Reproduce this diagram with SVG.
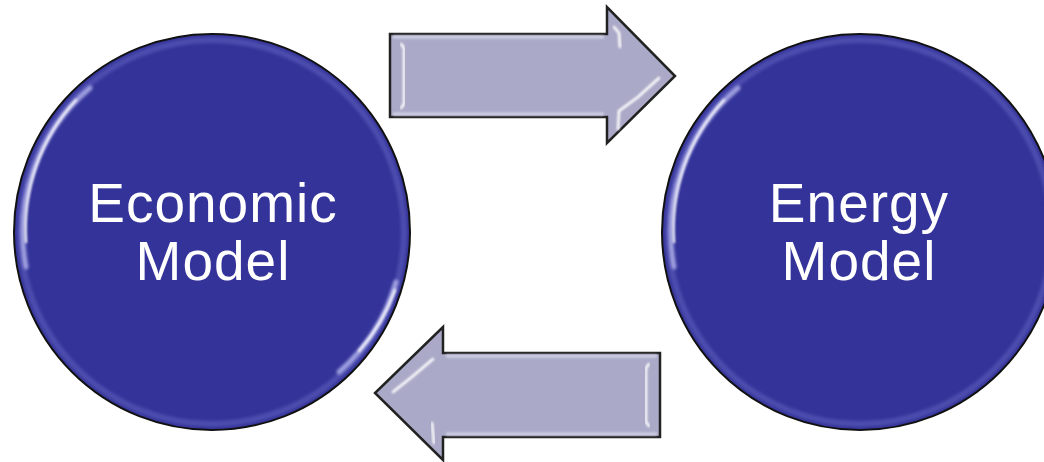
<svg xmlns="http://www.w3.org/2000/svg" width="1044" height="462" viewBox="0 0 1044 462">
<style>
.ball{fill:#333399;stroke:#111;stroke-width:2}
.band{fill:none;stroke:#6262c0;stroke-width:6;opacity:0.55;filter:url(#soft2)}
.glint{fill:none;stroke:#ffffff;stroke-width:2.5;stroke-linecap:round;filter:url(#soft);opacity:0.9}
.glint2{fill:none;stroke:#b8b8f0;stroke-width:5;stroke-linecap:round;filter:url(#soft2);opacity:0.8}
.arrow{fill:#aaaac8;stroke:#222;stroke-width:2.5;stroke-linejoin:miter}
.edge{fill:none;stroke:#ffffff;stroke-width:2.5;stroke-linecap:round;filter:url(#soft)}
.inner{fill:none;stroke:#d0d0e6;stroke-width:3;filter:url(#soft)}
.lbl{font-family:"Liberation Sans",Arial,sans-serif;font-size:55px;fill:#ffffff;text-anchor:middle;letter-spacing:1px}
</style>
<defs>
<filter id="soft" x="-20%" y="-20%" width="140%" height="140%"><feGaussianBlur stdDeviation="0.9"/></filter>
<filter id="soft2" x="-20%" y="-20%" width="140%" height="140%"><feGaussianBlur stdDeviation="1.8"/></filter>
</defs>
<g id="connectors">
<g id="arrow-right">
<path class="arrow" d="M390,34 L607,34 L607,7 L675,76 L607,143 L607,117 L390,117 Z"/>
<path class="inner" d="M393,37 L604,37 M393,114 L604,114"/>
<path class="edge" d="M401,44 L404,48 L404,104 L401,108"/>
<path class="edge" d="M614,27 L619,33 L620,47"/>
<path class="edge" d="M659,78 L638,97 L619,111 L618,129"/>
</g>
<g id="arrow-left">
<path class="arrow" d="M660,353 L443,353 L443,327 L375,393 L443,460 L443,437 L660,437 Z"/>
<path class="inner" d="M657,356 L446,356 M657,434 L446,434"/>
<path class="edge" d="M649,364 L646,368 L646,422 L649,426"/>
<path class="edge" d="M433,359 L413,376 L393,392"/>
<path class="edge" d="M432,423 L434,443"/>
</g>
</g>
<g id="node-economic">
<circle class="ball" cx="212" cy="232" r="198"/>
<circle class="band" cx="212" cy="232" r="192"/>
<path class="glint2" d="M26,267 A189,189 0 0 1 90,88"/>
<path class="glint" d="M26,242 A189,189 0 0 1 76,100"/>
<path class="glint2" d="M396,282 A189,189 0 0 1 339,372"/>
<path class="glint" d="M395,290 A189,189 0 0 1 359,351"/>
<text class="lbl" x="213" y="222">Economic</text>
<text class="lbl" x="213" y="280">Model</text>
</g>
<g id="node-energy">
<circle class="ball" cx="860" cy="232" r="198"/>
<circle class="band" cx="860" cy="232" r="192"/>
<path class="glint2" d="M674,267 A189,189 0 0 1 738,88"/>
<path class="glint" d="M674,242 A189,189 0 0 1 724,100"/>
<text class="lbl" x="859" y="222">Energy</text>
<text class="lbl" x="859" y="280">Model</text>
</g>
</svg>
